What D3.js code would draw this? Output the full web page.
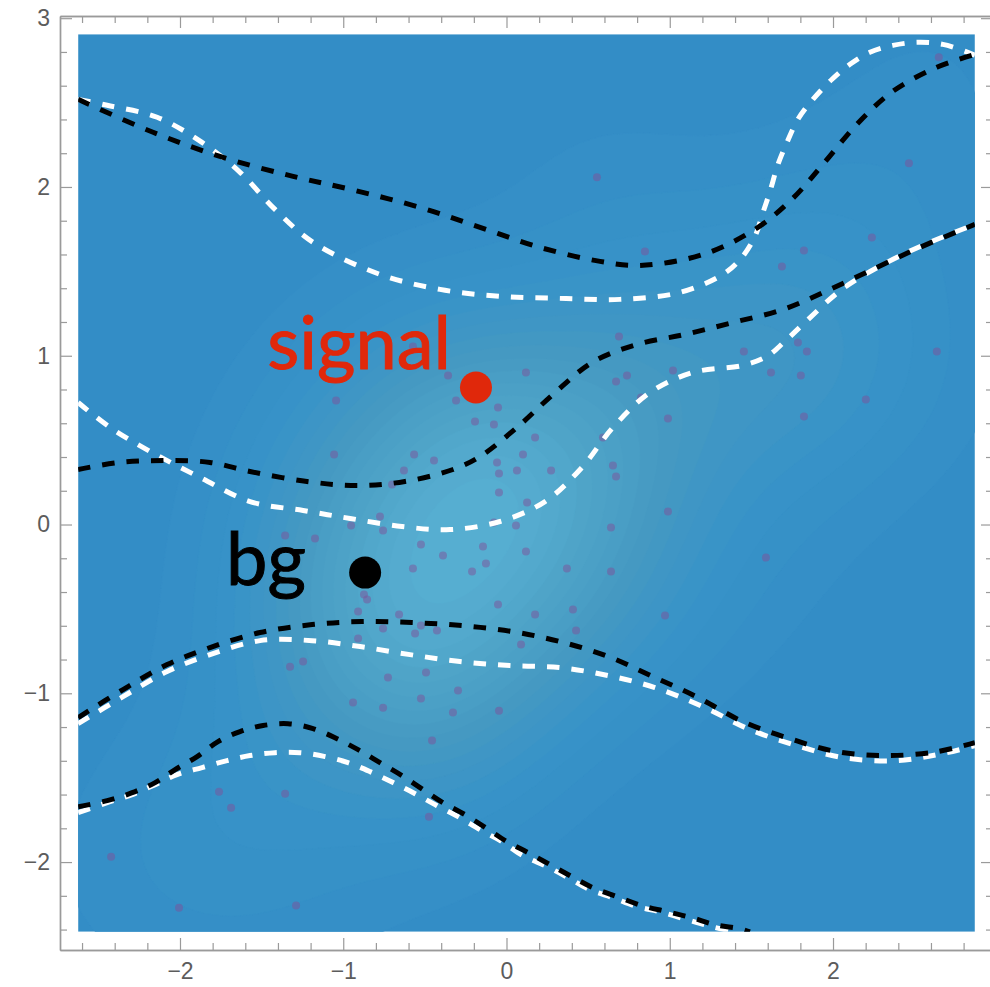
<!DOCTYPE html>
<html>
<head>
<meta charset="utf-8">
<script src="https://cdn.jsdelivr.net/npm/d3@7"></script>
<style>
  body { margin: 0; background: #ffffff; }
  svg { display: block; }
</style>
</head>
<body>
<svg id="chart" width="990" height="987"></svg>
<script>
// ---- sample points (x, y) ----
const pointsX = [-2.422,-2.006,-1.289,-1.761,-1.687,-1.356,-1.326,-1.246,-0.940,-0.756,
  -0.726,-0.524,-0.493,-0.297,-0.328,-0.046,-0.456,-0.475,-0.573,-0.211,
  -0.126,-0.873,-0.854,-0.909,-0.658,-0.756,-0.560,-0.524,-0.426,-0.909,
  -0.052,0.370,0.640,0.175,0.407,0.426,0.089,0.971,-1.044,-0.573,
  -0.358,-0.309,-0.052,-0.193,-0.077,-1.056,-0.566,-0.444,-0.628,-0.058,
  -0.046,-0.701,-0.046,-0.775,-0.952,-0.756,-0.077,-1.356,-1.173,-0.524,
  -0.389,-0.144,0.689,0.119,0.671,0.738,1.020,0.824,0.989,0.175,
  0.101,0.064,0.273,0.591,0.652,0.671,0.126,0.058,0.640,0.989,
  0.119,2.465,2.238,1.822,1.687,1.454,1.785,1.840,1.620,1.803,
  2.636,2.201,1.822,2.648,0.554,0.848,1.589];
const pointsY = [-1.968,-2.270,-2.258,-1.583,-1.678,-1.595,-0.842,-0.812,-1.055,-1.085,
  -0.907,-1.031,-0.877,-0.984,-1.114,-1.103,-1.280,-1.731,-0.261,-0.279,
  -0.231,-0.415,-0.445,-0.516,-0.533,-0.616,-0.646,-0.599,-0.628,-0.676,
  -0.474,-0.261,-0.279,-0.533,-0.504,-0.628,-0.711,-0.539,0.735,1.055,
  0.883,0.735,0.694,0.611,0.593,0.415,0.415,0.379,0.320,0.368,
  0.302,0.237,0.190,0.047,-0.006,-0.036,0.012,-0.065,-0.083,-0.119,
  -0.184,-0.130,1.114,0.901,0.848,0.883,0.913,0.753,0.628,0.516,
  0.415,0.320,0.320,0.516,0.350,0.285,0.130,-0.006,-0.018,0.077,
  -0.160,2.140,1.701,1.624,1.529,1.025,1.079,1.025,0.901,0.883,
  1.025,0.741,0.640,2.768,2.057,1.618,-0.196];

// ---- boundary curves (black dashed) ----
const blackTop = [[-2.624,2.519],[-2.165,2.324],[-1.736,2.175],[-1.307,2.063],[-0.958,1.986],
  [-0.530,1.879],[-0.162,1.761],[0.205,1.642],[0.573,1.559],[0.817,1.535],[1.203,1.600],
  [1.522,1.749],[1.748,1.927],[1.938,2.134],[2.146,2.371],[2.367,2.567],[2.636,2.709],[2.869,2.786]];
const blackUpper = [[-2.624,0.326],[-2.367,0.368],[-2.091,0.379],[-1.816,0.368],[-1.571,0.314],
  [-1.222,0.255],[-0.915,0.231],[-0.622,0.255],[-0.328,0.326],[-0.162,0.403],[0.064,0.575],
  [0.285,0.771],[0.524,0.960],[0.799,1.067],[1.093,1.126],[1.387,1.197],[1.693,1.274],
  [1.981,1.393],[2.268,1.523],[2.532,1.642],[2.869,1.778]];
const blackLower = [[-2.624,-1.144],[-2.349,-0.978],[-2.079,-0.830],[-1.816,-0.729],[-1.510,-0.640],
  [-1.191,-0.593],[-0.885,-0.575],[-0.579,-0.581],[-0.272,-0.599],[0.034,-0.634],[0.328,-0.694],
  [0.622,-0.782],[0.897,-0.901],[1.173,-1.025],[1.448,-1.168],[1.736,-1.269],[2.024,-1.346],
  [2.330,-1.369],[2.636,-1.346],[2.869,-1.292]];
const blackBottom = [[-2.624,-1.672],[-2.446,-1.636],[-2.293,-1.589],[-2.152,-1.529],[-2.030,-1.452],
  [-1.895,-1.375],[-1.767,-1.286],[-1.632,-1.227],[-1.491,-1.191],[-1.338,-1.180],[-1.185,-1.209],
  [-1.038,-1.269],[-0.909,-1.334],[-0.775,-1.411],[-0.640,-1.488],[-0.511,-1.571],[-0.389,-1.648],
  [-0.254,-1.719],[-0.119,-1.802],[0.003,-1.879],[0.132,-1.944],[0.266,-2.015],[0.401,-2.087],
  [0.530,-2.152],[0.677,-2.205],[0.830,-2.258],[0.983,-2.294],[1.136,-2.330],[1.277,-2.371],
  [1.430,-2.395],[1.491,-2.413]];

// ---- boundary curves (white dashed) ----
const whiteTop = [[-2.624,2.519],[-2.446,2.484],[-2.140,2.413],[-1.865,2.264],[-1.632,2.087],
  [-1.418,1.867],[-1.185,1.672],[-0.775,1.482],[-0.407,1.393],[-0.040,1.352],[0.328,1.340],
  [0.695,1.334],[1.062,1.375],[1.326,1.482],[1.442,1.583],[1.522,1.707],[1.571,1.849],
  [1.614,1.974],[1.663,2.134],[1.718,2.264],[1.785,2.401],[1.877,2.519],[1.994,2.638],
  [2.104,2.727],[2.226,2.798],[2.367,2.839],[2.520,2.857],[2.673,2.845],[2.826,2.798],[2.869,2.780]];
const whiteUpper = [[-2.624,0.723],[-2.428,0.575],[-2.183,0.433],[-1.877,0.279],[-1.571,0.136],
  [-1.246,0.083],[-0.958,0.036],[-0.640,-0.012],[-0.346,-0.030],[-0.040,0.018],[0.236,0.136],
  [0.462,0.338],[0.652,0.575],[0.879,0.782],[1.142,0.901],[1.448,0.943],[1.595,0.996],
  [1.705,1.085],[1.828,1.197],[2.054,1.393],[2.330,1.553],[2.593,1.672],[2.869,1.778]];
const whiteLower = [[-2.624,-1.180],[-2.349,-1.020],[-2.079,-0.871],[-1.816,-0.771],[-1.510,-0.688],
  [-1.191,-0.688],[-0.897,-0.723],[-0.591,-0.771],[-0.285,-0.812],[0.021,-0.836],[0.328,-0.848],
  [0.622,-0.895],[0.909,-0.966],[1.203,-1.079],[1.491,-1.215],[1.779,-1.310],[2.061,-1.381],
  [2.391,-1.399],[2.697,-1.352],[2.869,-1.310]];
const whiteBottom = [[-2.624,-1.707],[-2.446,-1.648],[-2.293,-1.600],[-2.152,-1.541],[-2.018,-1.482],
  [-1.865,-1.440],[-1.712,-1.399],[-1.571,-1.369],[-1.418,-1.352],[-1.265,-1.352],[-1.111,-1.375],
  [-0.971,-1.411],[-0.836,-1.464],[-0.695,-1.529],[-0.560,-1.595],[-0.426,-1.666],[-0.297,-1.731],
  [-0.162,-1.808],[-0.028,-1.879],[0.101,-1.962],[0.248,-2.027],[0.377,-2.092],[0.511,-2.164],
  [0.652,-2.211],[0.799,-2.264],[0.940,-2.294],[1.105,-2.341],[1.258,-2.383],[1.399,-2.413]];

// ---- class markers and labels ----
const markerNames = ["signal", "bg"];
const markerX = [-0.187, -0.866];
const markerY = [0.812, -0.285];
const labelX = [-0.340, -1.228];
const labelY = [0.919, -0.356];
const markerColors = ["#e0280b", "#000000"];

// ---- axis ticks ----
const xTickValues = [-2, -1, 0, 1, 2];
const yTickValues = [-2, -1, 0, 1, 2, 3];

// ---- ranges ----
const densityXRange = [-2.624, 2.869];
const densityYRange = [-2.413, 2.905];
const frameXRange = [-2.735, 2.98];
const frameYRange = [-2.521, 3.013];

const svg = d3.select("#chart");
const x = d3.scaleLinear().domain(frameXRange).range([60, 993]);
const y = d3.scaleLinear().domain(frameYRange).range([950, 16]);

// clip to the density panel
const px0 = x(densityXRange[0]), px1 = x(densityXRange[1]);
const py0 = y(densityYRange[1]), py1 = y(densityYRange[0]);
svg.append("defs").append("clipPath").attr("id", "panel")
  .append("rect").attr("x", px0).attr("y", py0).attr("width", px1 - px0).attr("height", py1 - py0);

// ---- smooth density of the sample (Gaussian kernel) ----
const nx = 150, ny = 145, bw = 0.52;
const values = new Float64Array(nx * ny);
const gxToData = g => densityXRange[0] + (g - 0.5) * (densityXRange[1] - densityXRange[0]) / (nx - 1);
const gyToData = g => densityYRange[1] - (g - 0.5) * (densityYRange[1] - densityYRange[0]) / (ny - 1);
for (let j = 0; j < ny; j++) {
  const gy = densityYRange[1] - j * (densityYRange[1] - densityYRange[0]) / (ny - 1);
  for (let i = 0; i < nx; i++) {
    const gx = densityXRange[0] + i * (densityXRange[1] - densityXRange[0]) / (nx - 1);
    let s = 0;
    for (let k = 0; k < pointsX.length; k++) {
      const dx = gx - pointsX[k], dy = gy - pointsY[k];
      s += Math.exp(-(dx * dx + dy * dy) / (2 * bw * bw));
    }
    values[j * nx + i] = s;
  }
}
const vmax = d3.max(values);
const nLevels = 18;
const levels = d3.range(1, nLevels).map(i => vmax * i / nLevels);
const colorAt = d3.scaleLinear()
  .domain([0, 0.25, 0.5, 0.75, 1])
  .range(["#338dc6", "#3893c8", "#4599c2", "#4fa4c8", "#58b0d3"])
  .interpolate(d3.interpolateRgb);
const tone = v => Math.pow(v / vmax, 0.85);

const gDensity = svg.append("g").attr("clip-path", "url(#panel)");
gDensity.append("rect").attr("x", px0).attr("y", py0)
  .attr("width", px1 - px0).attr("height", py1 - py0).attr("fill", colorAt(0));
const contours = d3.contours().size([nx, ny]).thresholds(levels)(values);
const proj = d3.geoTransform({
  point(a, b) { this.stream.point(x(gxToData(a)), y(gyToData(b))); }
});
const cpath = d3.geoPath(proj);
gDensity.selectAll("path").data(contours).join("path")
  .attr("d", cpath)
  .attr("fill", d => colorAt(tone(d.value)))
  .attr("stroke", d => colorAt(tone(d.value)))
  .attr("stroke-width", 0.6);

// ---- sample points ----
const gPts = svg.append("g").attr("clip-path", "url(#panel)");
gPts.selectAll("circle").data(d3.range(pointsX.length)).join("circle")
  .attr("cx", i => x(pointsX[i]))
  .attr("cy", i => y(pointsY[i]))
  .attr("r", 4)
  .attr("fill", "rgb(126,82,153)")
  .attr("fill-opacity", 0.5);

// ---- dashed boundaries ----
const line = d3.line().x(d => x(d[0])).y(d => y(d[1])).curve(d3.curveCatmullRom.alpha(0.5));
const gCurves = svg.append("g").attr("clip-path", "url(#panel)")
  .attr("fill", "none").attr("stroke-width", 5).attr("stroke-dasharray", "12.5 12");
[whiteTop, whiteUpper, whiteLower, whiteBottom].forEach(c => {
  gCurves.append("path").attr("d", line(c)).attr("stroke", "#ffffff");
});
[blackTop, blackUpper, blackLower, blackBottom].forEach(c => {
  gCurves.append("path").attr("d", line(c)).attr("stroke", "#000000");
});

// ---- markers and labels ----
const gLab = svg.append("g");
markerNames.forEach((name, i) => {
  gLab.append("circle").attr("cx", x(markerX[i])).attr("cy", y(markerY[i]))
    .attr("r", 16).attr("fill", markerColors[i]);
  gLab.append("text").attr("x", x(labelX[i])).attr("y", y(labelY[i]))
    .attr("text-anchor", "end")
    .attr("font-family", "Lato, 'Noto Sans', sans-serif")
    .attr("font-size", 74)
    .attr("fill", markerColors[i])
    .attr("stroke", markerColors[i])
    .attr("stroke-width", 1)
    .text(name);
});

// ---- frame with inward ticks ----
const frameColor = "#9a9a9a";
const labelColor = "#5c5c5c";
const xMinor = d3.range(-2.6, 2.9, 0.2).filter(v => Math.abs(v - Math.round(v)) > 1e-6);
const yMinor = d3.range(-2.4, 3.0, 0.2).filter(v => Math.abs(v - Math.round(v)) > 1e-6);

function styleAxis(g, showLabels) {
  g.select(".domain").attr("stroke", frameColor).attr("stroke-width", 1.4);
  g.selectAll(".tick line").attr("stroke", frameColor).attr("stroke-width", 1.2);
  g.selectAll(".tick text").attr("fill", labelColor)
    .attr("font-family", "'Liberation Sans', Arial, sans-serif").attr("font-size", 23);
  if (!showLabels) g.selectAll(".tick text").remove();
}

const fmt = d3.format("d");
// bottom
svg.append("g").attr("transform", "translate(0,950)")
  .call(d3.axisBottom(x).tickValues(xTickValues).tickSize(-12).tickSizeOuter(0).tickPadding(13).tickFormat(fmt))
  .call(g => styleAxis(g, true));
svg.append("g").attr("transform", "translate(0,950)")
  .call(d3.axisBottom(x).tickValues(xMinor).tickSize(-7).tickSizeOuter(0).tickFormat(""))
  .call(g => styleAxis(g, false));
// top
svg.append("g").attr("transform", "translate(0,16)")
  .call(d3.axisTop(x).tickValues(xTickValues).tickSize(-12).tickSizeOuter(0).tickFormat(""))
  .call(g => styleAxis(g, false));
svg.append("g").attr("transform", "translate(0,16)")
  .call(d3.axisTop(x).tickValues(xMinor).tickSize(-7).tickSizeOuter(0).tickFormat(""))
  .call(g => styleAxis(g, false));
// left
svg.append("g").attr("transform", "translate(60,0)")
  .call(d3.axisLeft(y).tickValues(yTickValues).tickSize(-12).tickSizeOuter(0).tickPadding(10).tickFormat(fmt))
  .call(g => styleAxis(g, true));
svg.append("g").attr("transform", "translate(60,0)")
  .call(d3.axisLeft(y).tickValues(yMinor).tickSize(-7).tickSizeOuter(0).tickFormat(""))
  .call(g => styleAxis(g, false));
// right
svg.append("g").attr("transform", "translate(993,0)")
  .call(d3.axisRight(y).tickValues(yTickValues).tickSize(-12).tickSizeOuter(0).tickFormat(""))
  .call(g => styleAxis(g, false));
svg.append("g").attr("transform", "translate(993,0)")
  .call(d3.axisRight(y).tickValues(yMinor).tickSize(-7).tickSizeOuter(0).tickFormat(""))
  .call(g => styleAxis(g, false));
</script>
</body>
</html>
